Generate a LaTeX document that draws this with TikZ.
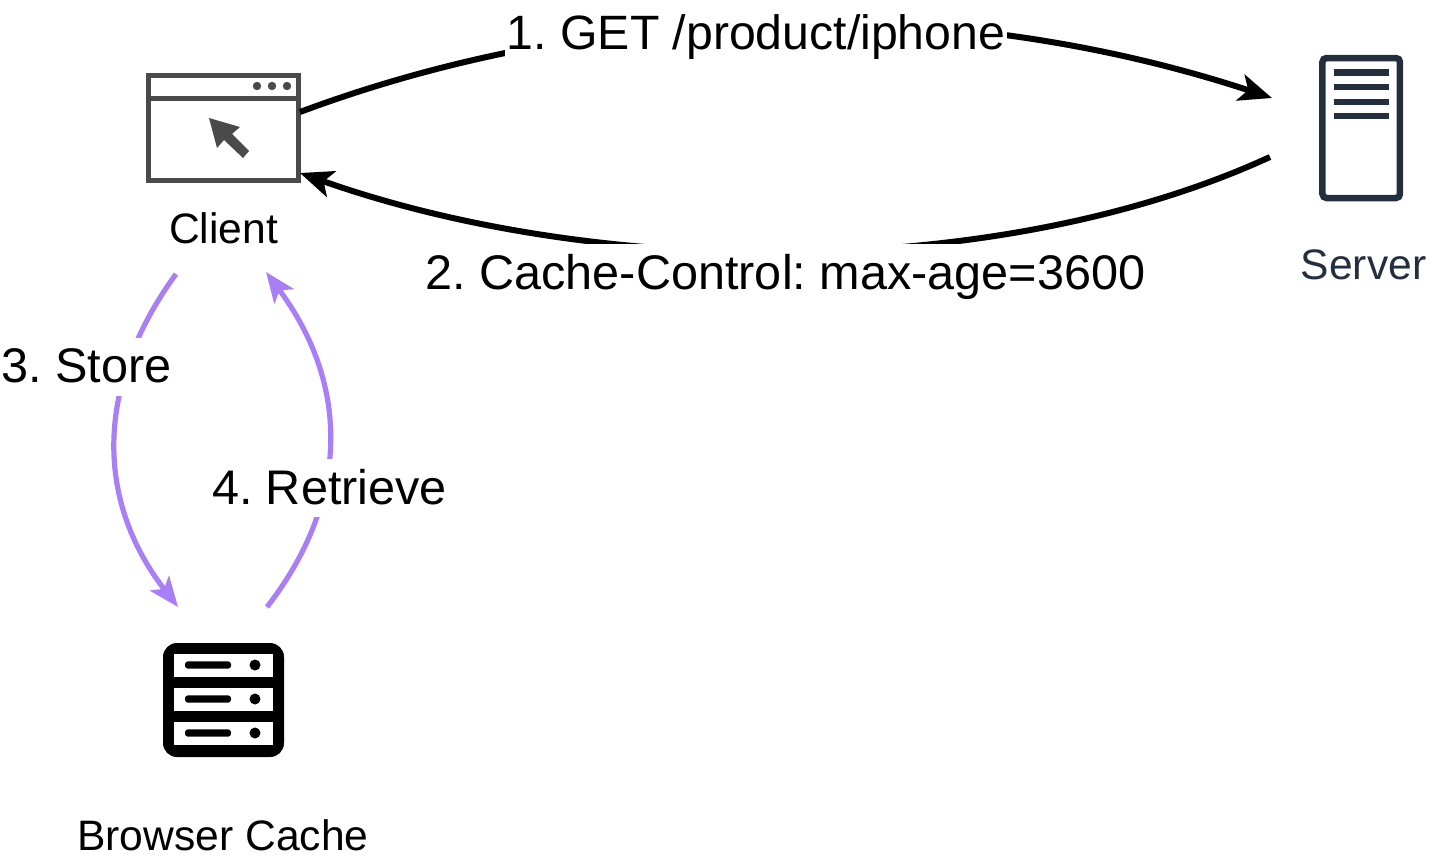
\documentclass[tikz,border=0pt]{standalone}
\usepackage{fontspec}
\setmainfont{Liberation Sans}
\usetikzlibrary{arrows.meta}
\frenchspacing
\definecolor{winGray}{HTML}{4A4A4A}
\definecolor{srvNavy}{HTML}{232F3E}
\definecolor{flowPurple}{HTML}{A97FF5}
\tikzset{
  x=1pt,y=-1pt,
  flow/.style={line width=6pt,-{Stealth[length=33pt,width=27pt,inset=8pt]}},
  cacheflow/.style={line width=5.2pt,color=flowPurple,-{Stealth[length=30pt,width=24pt,inset=7pt]}},
  edgelabel/.style={font=\fontsize{48.6}{56}\selectfont,fill=white,anchor=base,text height=44pt,text depth=12pt,inner xsep=2pt,inner ysep=1pt},
  iconlabel/.style={font=\fontsize{42.6}{50}\selectfont,anchor=base,inner sep=0pt},
  iconbox/.style={inner sep=0pt,outer sep=0pt,anchor=center},
}
\begin{document}
\begin{tikzpicture}
\useasboundingbox (0,0) rectangle (1456,862);
% Client icon
\node[iconbox,draw=winGray,line width=5pt,minimum width=150pt,minimum height=105pt] (client) at (223,127.5) {};
\draw[winGray,line width=5pt] (148,98) -- (298,98);
\fill[winGray] (257,86) circle (4.2) (272,86) circle (4.2) (287,86) circle (4.2);
\fill[winGray] (209,118) -- (240,127) -- (232,134) -- (249,151) -- (243,158) -- (224,140) -- (217,148) -- cycle;
% Server icon
\node[iconbox,draw=srvNavy,line width=6.5pt,rounded corners=4pt,minimum width=77.5pt,minimum height=140pt] (server) at (1361.2,128) {};
\foreach \y in {72.5,87,102,116}{\fill[srvNavy] (1334,\y-3.2) rectangle (1389,\y+3.2);}
% Cache icon
\node[iconbox,fill=black,rounded corners=14pt,minimum width=121pt,minimum height=114pt] (cache) at (223.5,700) {};
\foreach \y in {665,699,733}{
  \fill[white] (174,\y-11.5) rectangle (273,\y+11.5);
  \fill[black,rounded corners=3pt] (185,\y-3.7) rectangle (231,\y+3.7);
  \fill[black] (255,\y) circle (5.5);
}
% Icon captions
\node[iconlabel] (clientlabel) at (223.5,243) {Client};
\node[iconlabel,text=srvNavy] (serverlabel) at (1363.5,279) {Server};
\node[iconlabel] (cachelabel) at (223,850) {Browser Cache};
% Connector ends
\coordinate (a1s) at (300,112);
\coordinate (a1e) at (1272,98);
\coordinate (a2s) at (1270,157);
\coordinate (a2e) at (300,173);
\coordinate (a3s) at (176,274);
\coordinate (a3e) at (178,607);
\coordinate (a4s) at (267,607);
\coordinate (a4e) at (266,272);
% Connectors
\draw[flow] (a1s) .. controls (600,0) and (950,-8) .. (a1e);
\draw[flow] (a2s) .. controls (1000,281) and (600,279) .. (a2e);
\draw[cacheflow] (a3s) .. controls (95,385) and (95,500) .. (a3e);
\draw[cacheflow] (a4s) .. controls (350,500) and (350,385) .. (a4e);
% Connector labels
\node[edgelabel,font=\fontsize{48.2}{56}\selectfont] (l1) at (756,49) {1. GET /product/iphone};
\node[edgelabel] (l2) at (785.5,289) {2. Cache-Control: max-age=3600};
\node[edgelabel] (l3) at (86.5,382.5) {3. Store};
\node[edgelabel] (l4) at (329.5,504) {4. Retrieve};
\end{tikzpicture}
\end{document}
